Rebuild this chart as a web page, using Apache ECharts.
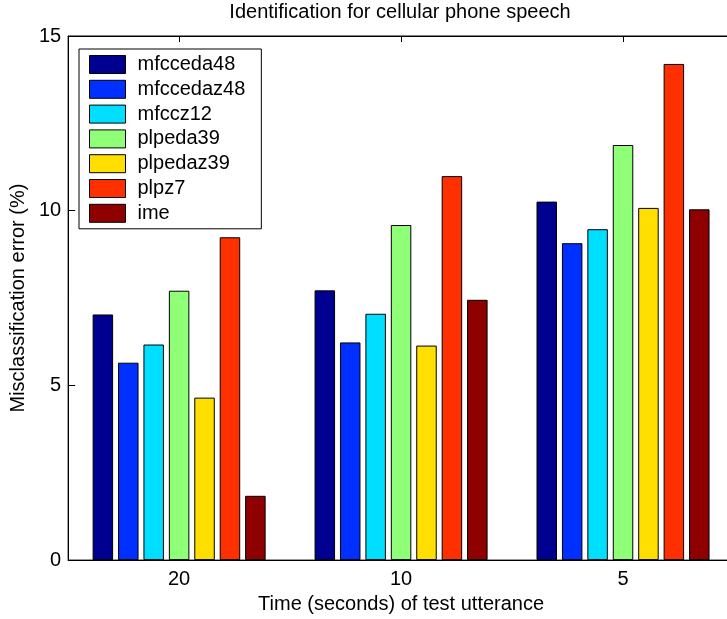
<!DOCTYPE html>
<html>
<head>
<meta charset="utf-8">
<script src="https://cdn.jsdelivr.net/npm/echarts@6/dist/echarts.min.js"></script>
<style>
html,body{margin:0;padding:0;background:#fff;overflow:hidden;}
#chart{width:745px;height:619px;}
</style>
</head>
<body>
<div id="chart"></div>
<script>
const categories = ['20', '10', '5'];
const seriesNames = ['mfcceda48', 'mfccedaz48', 'mfccz12', 'plpeda39', 'plpedaz39', 'plpz7', 'ime'];
const mfcceda48 = [7.03, 7.72, 10.26];
const mfccedaz48 = [5.65, 6.23, 9.07];
const mfccz12 = [6.17, 7.05, 9.47];
const plpeda39 = [7.71, 9.59, 11.88];
const plpedaz39 = [4.65, 6.14, 10.08];
const plpz7 = [9.24, 10.99, 14.20];
const ime = [1.84, 7.45, 10.04];
const yTicks = [0, 5, 10, 15];

const seriesValues = [mfcceda48, mfccedaz48, mfccz12, plpeda39, plpedaz39, plpz7, ime];
const colors = ['#000090', '#0030FF', '#00DFFF', '#90FF78', '#FFDF00', '#FF3000', '#8F0000'];
const FONT = 'Liberation Sans, Arial, sans-serif';

const chart = echarts.init(document.getElementById('chart'));
chart.setOption({
  animation: false,
  backgroundColor: '#fff',
  title: {
    text: 'Identification for cellular phone speech',
    left: 400,
    textAlign: 'center',
    top: 2,
    padding: 0,
    textStyle: {fontSize: 20, fontWeight: 'normal', color: '#000', fontFamily: FONT}
  },
  legend: {
    orient: 'vertical',
    left: 79,
    top: 49,
    padding: [5.5, 16, 5.5, 10],
    itemWidth: 36,
    itemHeight: 18,
    itemGap: 4.8,
    backgroundColor: '#fff',
    borderColor: '#000',
    borderWidth: 1,
    icon: 'rect',
    itemStyle: {borderColor: '#000', borderWidth: 1},
    textStyle: {fontSize: 20, color: '#000', fontFamily: FONT, padding: [0, 0, 0, 7]},
    data: seriesNames
  },
  grid: {left: 67, top: 36, width: 667, height: 528, show: true, borderColor: '#000', borderWidth: 1, containLabel: false},
  xAxis: [{
    type: 'category',
    data: categories,
    position: 'bottom',
    name: 'Time (seconds) of test utterance',
    nameLocation: 'middle',
    nameGap: 31,
    nameTextStyle: {fontSize: 20, color: '#000', fontFamily: FONT},
    axisLine: {lineStyle: {color: '#000', width: 1}},
    axisTick: {show: true, inside: true, alignWithLabel: true, length: 6, lineStyle: {color: '#000'}},
    axisLabel: {fontSize: 20, color: '#000', margin: 9, fontFamily: FONT}
  }, {
    type: 'category',
    data: categories,
    position: 'top',
    axisLine: {show: true, lineStyle: {color: '#000', width: 1}},
    axisTick: {show: true, inside: true, alignWithLabel: true, length: 6, lineStyle: {color: '#000'}},
    axisLabel: {show: false}
  }],
  yAxis: {
    type: 'value',
    min: yTicks[0],
    max: yTicks[yTicks.length - 1],
    interval: yTicks[1] - yTicks[0],
    name: 'Misclassification error (%)',
    nameLocation: 'middle',
    nameGap: 34,
    nameTextStyle: {fontSize: 20, color: '#000', fontFamily: FONT},
    axisLine: {show: true, lineStyle: {color: '#000', width: 1}},
    axisTick: {show: true, inside: true, length: 7, lineStyle: {color: '#000'}},
    axisLabel: {fontSize: 20, color: '#000', margin: 7, fontFamily: FONT},
    splitLine: {show: false}
  },
  series: seriesNames.map((n, i) => ({
    name: n,
    type: 'bar',
    xAxisIndex: 0,
    data: seriesValues[i],
    barWidth: 20.5,
    barGap: '24%',
    itemStyle: {color: colors[i], borderColor: '#000', borderWidth: 1}
  }))
});
</script>
</body>
</html>
